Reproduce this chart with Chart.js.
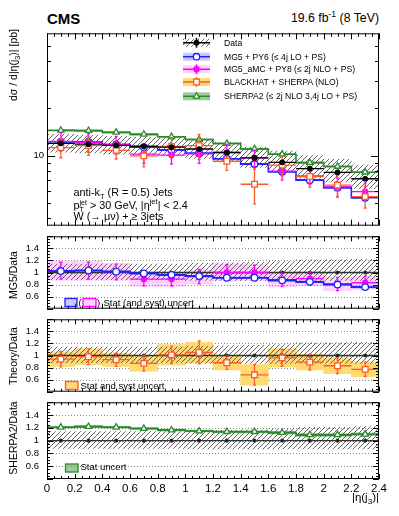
<!DOCTYPE html>
<html lang="en">
<head>
<meta charset="UTF-8">
<meta name="viewport" content="width=device-width, initial-scale=1.0">
<title>W + jets: |eta(j3)| cross section</title>
<script src="https://cdn.jsdelivr.net/npm/chart.js"></script>
<style>
  body { margin: 0; background: #fff; font-family: "Liberation Sans", Arial, sans-serif; }
  #page { position: relative; width: 399px; height: 516px; overflow: hidden; }
  canvas { position: absolute; left: 0; }
  .t { position: absolute; white-space: nowrap; line-height: 1; color: #000; }
  .t sub, .t sup { font-size: 0.7em; line-height: 0; }
  .rot { transform: translate(-50%, -50%) rotate(-90deg); font-size: 10.5px; }
  .leg { left: 224px; font-size: 8.6px; transform: translateY(-50%); }
  .ann { left: 73.5px; font-size: 10.8px; }
  .stk { display: inline-block; font-size: 0.65em; line-height: 0.95; vertical-align: -0.45em; }
  .rl { font-size: 9.5px; }
</style>
</head>
<body>
<div id="page">
  <canvas id="main" width="399" height="203" style="top:28px"></canvas>
  <canvas id="ratioMg5" width="399" height="83" style="top:231px"></canvas>
  <canvas id="ratioTheory" width="399" height="83" style="top:314px"></canvas>
  <canvas id="ratioSherpa" width="399" height="102" style="top:397px"></canvas>

  <div class="t" style="left:47px;top:10.5px;font-size:15px;font-weight:bold">CMS</div>
  <div class="t" style="right:20px;top:12.3px;font-size:12.3px">19.6 fb<sup>-1</sup> (8 TeV)</div>

  <div class="t rot" style="left:12.5px;top:65px">dσ / d|η(j<sub>3</sub>)| [pb]</div>
  <div class="t rot" style="left:13px;top:275px">MG5/Data</div>
  <div class="t rot" style="left:13px;top:356px">Theory/Data</div>
  <div class="t rot" style="left:13px;top:438px">SHERPA2/Data</div>

  <div class="t leg" style="top:42.7px">Data</div>
  <div class="t leg" style="top:56.7px">MG5 + PY6 (≤ 4j LO + PS)</div>
  <div class="t leg" style="top:69.3px">MG5_aMC + PY8 (≤ 2j NLO + PS)</div>
  <div class="t leg" style="top:82px">BLACKHAT + SHERPA (NLO)</div>
  <div class="t leg" style="top:96.3px">SHERPA2 (≤ 2j NLO 3,4j LO + PS)</div>

  <div class="t ann" style="top:187px">anti-k<sub>T</sub> (R = 0.5) Jets</div>
  <div class="t ann" style="top:199.5px">p<span class="stk">jet<br>T</span> &gt; 30 GeV, |η<sup>jet</sup>| &lt; 2.4</div>
  <div class="t ann" style="top:211px">W (→ μν) + ≥ 3jets</div>

  <div class="t rl" style="left:78.5px;top:298px">(</div>
  <div class="t rl" style="left:97px;top:298px">)</div>
  <div class="t rl" style="left:103.5px;top:298px">Stat (and syst) uncert</div>
  <div class="t rl" style="left:80.5px;top:380.7px">Stat and syst uncert</div>
  <div class="t rl" style="left:80.5px;top:462px">Stat uncert</div>

  <div class="t" style="right:20px;top:492px;font-size:11.5px">|η(j<sub>3</sub>)|</div>
</div>
<script>
  // bin centres of |eta(j3)|, bins are 0.2 wide
  const etaBins = [0.1, 0.3, 0.5, 0.7, 0.9, 1.1, 1.3, 1.5, 1.7, 1.9, 2.1, 2.3];
  const binHalf = 0.1;

  // measured cross section [pb] and relative uncertainties
  const dataXsec = [12.0, 11.85, 11.65, 11.5, 11.35, 11.05, 10.5, 9.7, 9.1, 8.3, 7.85, 7.15];
  const dataStat = [0.010, 0.010, 0.010, 0.011, 0.011, 0.012, 0.012, 0.013, 0.014, 0.015, 0.016, 0.018];
  const dataSystUp = [0.14, 0.14, 0.14, 0.14, 0.14, 0.15, 0.16, 0.17, 0.18, 0.21, 0.21, 0.22];
  const dataSystDown = [0.12, 0.12, 0.12, 0.12, 0.12, 0.13, 0.13, 0.13, 0.13, 0.13, 0.13, 0.13];

  // MG5 + PY6
  const mg5Xsec = [12.28, 12.24, 11.81, 11.33, 10.91, 10.39, 9.59, 8.86, 7.92, 7.01, 6.28, 5.42];
  const mg5Ratio = [1.023, 1.033, 1.014, 0.985, 0.961, 0.94, 0.913, 0.913, 0.87, 0.845, 0.80, 0.758];
  const mg5Stat = [0.012, 0.012, 0.012, 0.012, 0.013, 0.013, 0.014, 0.014, 0.015, 0.015, 0.016, 0.017];

  // MG5_aMC + PY8
  const amcXsec = [12.36, 12.2, 11.77, 10.24, 10.1, 10.28, 10.5, 9.7, 8.0, 7.47, 6.36, 5.93];
  const amcRatio = [1.03, 1.03, 1.01, 0.89, 0.89, 0.93, 1.0, 1.0, 0.88, 0.90, 0.81, 0.83];
  const amcStat = [0.14, 0.14, 0.13, 0.11, 0.11, 0.12, 0.13, 0.12, 0.11, 0.11, 0.11, 0.11];
  const amcTotal = [0.16, 0.16, 0.14, 0.12, 0.12, 0.12, 0.14, 0.13, 0.12, 0.12, 0.11, 0.11];

  // BLACKHAT + SHERPA
  const bhXsec = [11.28, 11.61, 10.83, 10.0, 11.46, 11.6, 9.24, 6.6, 8.74, 7.39, 6.52, 5.51];
  const bhRatio = [0.94, 0.98, 0.93, 0.87, 1.01, 1.05, 0.88, 0.68, 0.96, 0.89, 0.83, 0.77];
  const bhErr = [0.13, 0.13, 0.11, 0.13, 0.14, 0.19, 0.11, 0.17, 0.14, 0.13, 0.13, 0.12];
  const bhBand = [0.12, 0.13, 0.11, 0.13, 0.17, 0.17, 0.12, 0.17, 0.15, 0.13, 0.13, 0.12];

  // SHERPA2
  const shXsec = [14.52, 14.46, 14.1, 13.69, 13.22, 12.71, 11.97, 11.06, 10.24, 9.05, 8.56, 7.87];
  const shRatio = [1.21, 1.22, 1.21, 1.19, 1.165, 1.15, 1.14, 1.14, 1.125, 1.09, 1.09, 1.10];
  const shStat = [0.015, 0.015, 0.015, 0.015, 0.015, 0.015, 0.018, 0.018, 0.02, 0.025, 0.022, 0.022];

  // axis tick values
  const mainLabels = [10];
  const mainMinor = [4, 5, 6, 7, 8, 9, 20, 30, 40, 50];
  const ratioLabels = [0.6, 0.8, 1, 1.2, 1.4];

  const family = '"Liberation Sans", Arial, sans-serif';
  const BLUE = '#2020ff', MAGENTA = '#ff00ff', ORANGE = '#ff5a28', GREEN = '#2a8a2a';
  const BLUE_BAND = 'rgba(80,80,255,0.3)', PINK_BAND = 'rgba(255,0,255,0.18)';
  const YELLOW_BAND = '#ffd972', GREEN_BAND = 'rgba(40,140,40,0.45)';

  function makeHatch() {
    const s = 5;
    const c = document.createElement('canvas');
    c.width = c.height = s;
    const g = c.getContext('2d');
    g.strokeStyle = '#555';
    g.lineWidth = 0.9;
    g.beginPath();
    g.moveTo(0, s); g.lineTo(s, 0);
    g.moveTo(-1, 1); g.lineTo(1, -1);
    g.moveTo(s - 1, s + 1); g.lineTo(s + 1, s - 1);
    g.stroke();
    return g.createPattern(c, 'repeat');
  }
  const HATCH = makeHatch();

  const pts = vals => etaBins.map((x, i) => ({ x, y: vals[i] }));

  function band(lo, hi, fill, order) {
    return {
      type: 'bar', order,
      data: etaBins.map((x, i) => ({ x, y: [lo[i], hi[i]] })),
      backgroundColor: fill, borderWidth: 0, grouped: false,
      barPercentage: 1, categoryPercentage: 1
    };
  }

  function histo(vals, color, style, radius, order) {
    return {
      type: 'line', order, data: pts(vals), stepped: 'middle', fill: false,
      borderColor: color, borderWidth: 1.6,
      pointStyle: style, pointRadius: radius, pointBorderColor: color,
      pointBackgroundColor: '#fff', pointBorderWidth: 1.3,
      errX: binHalf, errColor: color, errWidth: 1.6
    };
  }

  function marks(vals, lo, hi, color, style, radius, fill, order, cap) {
    return {
      type: 'scatter', order, data: pts(vals), showLine: false,
      pointStyle: style, pointRadius: radius, pointBorderColor: color,
      pointBackgroundColor: fill, pointBorderWidth: 1.3,
      errX: binHalf, errLo: lo, errHi: hi, errColor: color, errWidth: 1.3, errCap: cap || 0
    };
  }

  // horizontal + vertical error bars drawn just under each dataset
  const errorBars = {
    id: 'errorBars',
    beforeDatasetDraw(chart, args) {
      const ds = chart.data.datasets[args.index];
      if (!ds.errX && !ds.errLo) return;
      const { ctx, chartArea: a, scales: { x, y } } = chart;
      ctx.save();
      ctx.beginPath();
      ctx.rect(a.left, a.top, a.right - a.left, a.bottom - a.top);
      ctx.clip();
      ctx.strokeStyle = ds.errColor;
      ctx.lineWidth = ds.errWidth;
      ctx.beginPath();
      ds.data.forEach((p, i) => {
        const px = x.getPixelForValue(p.x), py = y.getPixelForValue(p.y);
        if (ds.errX) {
          ctx.moveTo(x.getPixelForValue(p.x - ds.errX), py);
          ctx.lineTo(x.getPixelForValue(p.x + ds.errX), py);
        }
        if (ds.errLo) {
          const lo = y.getPixelForValue(ds.errLo[i]), hi = y.getPixelForValue(ds.errHi[i]);
          ctx.moveTo(px, lo); ctx.lineTo(px, hi);
          if (ds.errCap) {
            ctx.moveTo(px - ds.errCap, lo); ctx.lineTo(px + ds.errCap, lo);
            ctx.moveTo(px - ds.errCap, hi); ctx.lineTo(px + ds.errCap, hi);
          }
        }
      });
      ctx.stroke();
      ctx.restore();
    }
  };

  // ROOT style frame: box, inward ticks on all four sides, dotted grid
  function frame(cfg) {
    return {
      id: 'frame',
      beforeDatasetsDraw(chart) {
        if (!cfg.grid) return;
        const { ctx, chartArea: a, scales: { y } } = chart;
        ctx.save();
        ctx.strokeStyle = '#888';
        ctx.lineWidth = 1;
        ctx.setLineDash([1, 2]);
        ctx.beginPath();
        cfg.grid.forEach(v => {
          const py = Math.round(y.getPixelForValue(v)) + 0.5;
          ctx.moveTo(a.left, py); ctx.lineTo(a.right, py);
        });
        ctx.stroke();
        ctx.restore();
      },
      afterDraw(chart) {
        const { ctx, chartArea: a, scales: { x, y } } = chart;
        ctx.save();
        ctx.strokeStyle = '#000';
        ctx.lineWidth = 1;
        ctx.strokeRect(a.left + 0.5, a.top + 0.5, a.right - a.left - 1, a.bottom - a.top - 1);
        ctx.beginPath();
        for (let k = 0; k <= 48; k++) {
          const px = Math.round(x.getPixelForValue(k * 0.05)) + 0.5;
          const len = k % 4 === 0 ? cfg.xMajor : cfg.xMinor;
          ctx.moveTo(px, a.top); ctx.lineTo(px, a.top + len);
          ctx.moveTo(px, a.bottom); ctx.lineTo(px, a.bottom - len);
        }
        const yTick = (v, len) => {
          const py = Math.round(y.getPixelForValue(v)) + 0.5;
          ctx.moveTo(a.left, py); ctx.lineTo(a.left + len, py);
          ctx.moveTo(a.right, py); ctx.lineTo(a.right - len, py);
        };
        cfg.yMajorTicks.forEach(v => yTick(v, cfg.yMajor));
        cfg.yMinorTicks.forEach(v => yTick(v, cfg.yMinor));
        ctx.stroke();
        ctx.restore();
        if (cfg.extra) cfg.extra(chart.ctx);
      }
    };
  }

  function legendBox(ctx, x0, y0, x1, y1, fill, stroke) {
    ctx.save();
    ctx.fillStyle = fill;
    ctx.fillRect(x0, y0, x1 - x0, y1 - y0);
    ctx.strokeStyle = stroke;
    ctx.lineWidth = 1.3;
    ctx.strokeRect(x0, y0, x1 - x0, y1 - y0);
    ctx.restore();
  }

  function drawMainLegend(ctx) {
    const rows = [
      { y: 42.7, fill: HATCH, color: '#000', marker: 'circle', r: 2.2, mfill: '#000', vbar: true },
      { y: 56.7, fill: BLUE_BAND, color: BLUE, marker: 'circle', r: 3.2, mfill: '#fff' },
      { y: 69.3, fill: PINK_BAND, color: MAGENTA, marker: 'circle', r: 2.6, mfill: MAGENTA, vbar: true },
      { y: 82, fill: YELLOW_BAND, color: ORANGE, marker: 'rect', r: 4, mfill: '#fff', vbar: true },
      { y: 96.3, fill: GREEN_BAND, color: GREEN, marker: 'triangle', r: 3.6, mfill: '#fff' }
    ];
    const x0 = 183, x1 = 210, xm = 196.5, h = 4;
    rows.forEach(r => {
      const y = r.y - 28;
      ctx.save();
      ctx.fillStyle = r.fill;
      ctx.fillRect(x0, y - h, x1 - x0, 2 * h);
      ctx.strokeStyle = r.color;
      ctx.lineWidth = 1.5;
      ctx.beginPath();
      ctx.moveTo(x0, y); ctx.lineTo(x1, y);
      if (r.vbar) { ctx.moveTo(xm, y - h - 1); ctx.lineTo(xm, y + h + 1); }
      ctx.stroke();
      ctx.fillStyle = r.mfill;
      ctx.lineWidth = 1.3;
      Chart.helpers.drawPoint(ctx, { pointStyle: r.marker, radius: r.r, borderWidth: 1.3, rotation: 0 }, xm, y);
      ctx.restore();
    });
  }

  function xAxis(showX) {
    return {
      type: 'linear', min: 0, max: 2.4, offset: false, display: showX,
      grid: { display: false, drawTicks: false }, border: { display: false },
      ticks: {
        stepSize: 0.2, autoSkip: false, maxRotation: 0, padding: 3,
        font: { size: 11.5, family }, color: '#000',
        callback: v => String(+v.toFixed(1))
      },
      afterFit: s => { if (showX) s.height = 20; s.paddingLeft = 0; s.paddingRight = 0; }
    };
  }

  function yRatio() {
    return {
      type: 'linear', min: 0.4, max: 1.6,
      grid: { display: false, drawTicks: false }, border: { display: false },
      afterBuildTicks: s => { s.ticks = ratioLabels.map(v => ({ value: v })); },
      afterFit: s => { s.width = 40; s.paddingTop = 0; s.paddingBottom = 0; },
      ticks: {
        padding: 8, font: { size: 9.5, family }, color: '#000',
        callback: v => v === 1 ? '1' : v.toFixed(1)
      }
    };
  }

  const ratioMajor = [], ratioMinor = [];
  for (let k = 0; k <= 24; k++) (k % 4 === 0 ? ratioMajor : ratioMinor).push(0.4 + k * 0.05);

  function makeChart(id, datasets, yScale, showX, frameCfg) {
    return new Chart(document.getElementById(id), {
      type: 'scatter',
      data: { datasets },
      options: {
        responsive: false, animation: false, devicePixelRatio: 1, events: [],
        layout: { padding: { left: 7, right: 20, top: 0, bottom: 0 } },
        plugins: { legend: { display: false }, tooltip: { enabled: false } },
        scales: { x: xAxis(showX), y: yScale }
      },
      plugins: [errorBars, frame(frameCfg)]
    });
  }

  const ones = etaBins.map(() => 1);
  const dataRatioMarks = marks(ones, dataStat.map(e => 1 - e), dataStat.map(e => 1 + e), '#333', 'circle', 1.4, '#000', 6);
  const hatchRatio = band(dataSystDown.map(e => 1 - e), dataSystUp.map(e => 1 + e), HATCH, 19);

  // main panel: absolute cross sections, log scale
  makeChart('main', [
    band(dataXsec.map((v, i) => v * (1 - dataSystDown[i])), dataXsec.map((v, i) => v * (1 + dataSystUp[i])), HATCH, 20),
    histo(mg5Xsec, BLUE, 'circle', 3.3, 4),
    marks(amcXsec, amcXsec.map((v, i) => v * (1 - amcStat[i] / amcRatio[i])), amcXsec.map((v, i) => v * (1 + amcStat[i] / amcRatio[i])),
      MAGENTA, 'circle', 2.5, MAGENTA, 3, 1.5),
    marks(bhXsec, bhXsec.map((v, i) => v * (1 - bhErr[i] / bhRatio[i])), bhXsec.map((v, i) => v * (1 + bhErr[i] / bhRatio[i])),
      ORANGE, 'rect', 4, '#fff', 2, 1.5),
    histo(shXsec, GREEN, 'triangle', 3.6, 5),
    marks(dataXsec, dataXsec.map((v, i) => v * (1 - dataStat[i])), dataXsec.map((v, i) => v * (1 + dataStat[i])),
      '#000', 'circle', 2.2, '#000', 0)
  ], {
    type: 'logarithmic', min: 3.6, max: 60,
    grid: { display: false, drawTicks: false }, border: { display: false },
    afterBuildTicks: s => { s.ticks = mainLabels.map(v => ({ value: v })); },
    afterFit: s => { s.width = 40; s.paddingTop = 0; s.paddingBottom = 0; },
    ticks: { padding: 3, font: { size: 9.5, family }, color: '#000', callback: v => String(v) }
  }, false, {
    xMajor: 6, xMinor: 3.5, yMajor: 8, yMinor: 4,
    yMajorTicks: mainLabels, yMinorTicks: mainMinor, extra: drawMainLegend
  });

  // MG5 / Data
  makeChart('ratioMg5', [
    band(amcRatio.map((v, i) => v - amcTotal[i]), amcRatio.map((v, i) => v + amcTotal[i]), PINK_BAND, 21),
    hatchRatio,
    band(mg5Ratio.map((v, i) => v - mg5Stat[i]), mg5Ratio.map((v, i) => v + mg5Stat[i]), BLUE_BAND, 18),
    dataRatioMarks,
    marks(amcRatio, amcRatio.map((v, i) => v - amcStat[i]), amcRatio.map((v, i) => v + amcStat[i]),
      MAGENTA, 'circle', 2.5, MAGENTA, 3, 1.5),
    histo(mg5Ratio, BLUE, 'circle', 3.3, 2)
  ], yRatio(), false, {
    grid: ratioLabels, xMajor: 5, xMinor: 3, yMajor: 6, yMinor: 3,
    yMajorTicks: ratioMajor, yMinorTicks: ratioMinor,
    extra: ctx => {
      legendBox(ctx, 65, 298.5 - 231, 77, 306.5 - 231, BLUE_BAND, BLUE);
      legendBox(ctx, 83, 298.5 - 231, 96, 306.5 - 231, PINK_BAND, MAGENTA);
    }
  });

  // BLACKHAT + SHERPA / Data
  makeChart('ratioTheory', [
    band(bhRatio.map((v, i) => v - bhBand[i]), bhRatio.map((v, i) => v + bhBand[i]), YELLOW_BAND, 21),
    hatchRatio,
    dataRatioMarks,
    marks(bhRatio, bhRatio.map((v, i) => v - bhErr[i]), bhRatio.map((v, i) => v + bhErr[i]),
      ORANGE, 'rect', 4, '#fff', 2, 1.5)
  ], yRatio(), false, {
    grid: ratioLabels, xMajor: 5, xMinor: 3, yMajor: 6, yMinor: 3,
    yMajorTicks: ratioMajor, yMinorTicks: ratioMinor,
    extra: ctx => legendBox(ctx, 65.5, 381.5 - 314, 78, 389.5 - 314, YELLOW_BAND, ORANGE)
  });

  // SHERPA2 / Data
  makeChart('ratioSherpa', [
    hatchRatio,
    band(shRatio.map((v, i) => v - shStat[i]), shRatio.map((v, i) => v + shStat[i]), GREEN_BAND, 18),
    dataRatioMarks,
    histo(shRatio, GREEN, 'triangle', 3.6, 2)
  ], yRatio(), true, {
    grid: ratioLabels, xMajor: 5, xMinor: 3, yMajor: 6, yMinor: 3,
    yMajorTicks: ratioMajor, yMinorTicks: ratioMinor,
    extra: ctx => legendBox(ctx, 65.5, 464 - 397, 78, 472 - 397, GREEN_BAND, GREEN)
  });
</script>
</body>
</html>
